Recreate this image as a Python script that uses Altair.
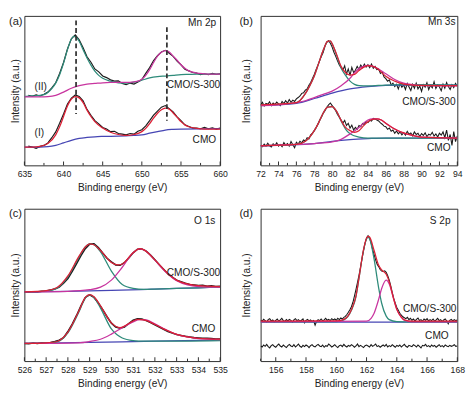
import altair as alt
import pandas as pd

FONT = "Liberation Sans"
C_BLACK = "#1a1a1a"
C_GREEN = "#2e8b7a"
C_MAG = "#c8359f"
C_RED = "#dc2035"
C_BLUE = "#4646b4"
FRAME = "#2a2a2a"
TXT = "#222222"

# ---------------- Panel (a) Mn 2p ----------------
a_xdom = [635, 660]
a_major = [635, 640, 645, 650, 655, 660]
a_minor = [637.5, 642.5, 647.5, 652.5, 657.5]
a_II_start, a_II_step = 635.5, 0.5
a_II_data = [218, 215, 219, 216, 221, 228, 241, 257, 286, 320, 362, 394, 406, 391, 366, 338, 321, 300, 291, 278,
             273, 266, 262, 263, 255, 251, 256, 253, 259, 267, 286, 304, 326, 341, 353, 358, 349, 339, 324, 313,
             299, 294, 289, 287, 282, 285, 282, 286, 283, 285]
a_II_green = [(635, 214), (636, 216), (637, 218), (637.5, 220), (638, 227), (638.5, 239), (639, 256), (639.5, 282),
              (640, 318), (640.5, 360), (641, 393), (641.3, 401), (641.6, 399), (642, 386), (642.5, 360), (643, 334),
              (643.5, 312), (644, 293), (644.5, 280), (645, 271), (646, 262), (647, 257), (648, 256), (649, 259),
              (650, 265), (651, 272), (652, 276), (653, 278), (654, 280), (655, 282), (656, 283), (657, 284), (660, 284)]
a_II_mag = [(635, 213), (637, 213), (638, 214), (639, 218), (640, 228), (641, 240), (642, 248), (643, 253), (644, 255),
            (645, 257), (646, 258), (648, 258), (649, 260), (649.5, 262), (650, 268), (650.5, 280), (651, 298),
            (651.5, 320), (652, 340), (652.5, 352), (653, 357), (653.5, 353), (654, 340), (654.5, 327), (655, 313),
            (655.5, 302), (656, 294), (656.5, 290), (657, 287), (658, 285), (659, 284), (660, 284)]
a_I_start, a_I_step = 635.5, 0.5
a_I_data = [60, 57, 53, 59, 62, 70, 86, 104, 131, 160, 191, 209, 219, 214, 201, 174, 156, 139, 129, 118,
            113, 105, 106, 99, 97, 95, 99, 97, 106, 111, 123, 139, 156, 169, 181, 186, 176, 166, 151, 139,
            126, 121, 116, 116, 114, 118, 114, 117, 113, 116]
a_I_red = [(635, 57), (636, 57), (637, 59), (638, 68), (639, 95), (639.5, 120), (640, 152), (640.5, 185), (641, 206),
           (641.5, 214), (642, 210), (642.5, 195), (643, 172), (643.5, 152), (644, 136), (645, 116), (646, 103),
           (647, 96), (648, 93), (649, 96), (650, 105), (650.5, 115), (651, 130), (651.5, 147), (652, 162),
           (652.5, 173), (653, 178), (653.5, 175), (654, 163), (654.5, 150), (655, 136), (655.5, 126), (656, 120),
           (657, 115), (658, 113), (660, 113)]
a_I_blue = [(635, 57), (637, 57), (638, 58), (639, 62), (640, 70), (641, 78), (642, 84), (643, 87), (644, 89),
            (645, 90), (647, 91), (648, 92), (649, 93), (650, 95), (651, 100), (652, 105), (653, 110), (654, 112),
            (655, 113), (660, 114)]
a_dash_x = [641.6, 653.2]
a_dash_top = [451, 430]
a_dash_bottom = [160, 139]
a_labels_right = [("Mn 2p", 659.5, 442), ("CMO/S-300", 660, 250), ("CMO", 659.5, 80)]
a_labels_left = [("(II)", 636.3, 245), ("(I)", 636.3, 100)]

# ---------------- Panel (b) Mn 3s ----------------
b_xdom = [72, 94]
b_major = [72, 74, 76, 78, 80, 82, 84, 86, 88, 90, 92, 94]
b_minor = [73, 75, 77, 79, 81, 83, 85, 87, 89, 91, 93]
b_top_start, b_top_step = 72.0, 0.2
b_top_data = [188, 196, 185, 193, 190, 198, 186, 194, 189, 197, 191, 186, 199, 192, 201, 194, 205, 196, 203, 199,
              207, 211, 216, 224, 226, 234, 238, 249, 258, 270, 283, 298, 311, 326, 339, 352, 371, 384, 388, 380,
              368, 352, 339, 325, 312, 304, 296, 310, 284, 300, 280, 305, 289, 296, 308, 299, 312, 304, 315, 306,
              313, 304, 315, 302, 308, 298, 300, 286, 290, 275, 270, 262, 266, 250, 256, 245, 252, 238, 255, 243,
              250, 236, 255, 244, 233, 252, 240, 256, 238, 247, 230, 251, 243, 257, 236, 249, 241, 260, 239, 250,
              244, 232, 253, 240, 258, 245, 236, 251, 242, 255, 246]
b_top_green = [(72, 188), (74, 190), (76, 195), (77, 223), (77.5, 248), (78, 278), (78.5, 318), (79, 358),
               (79.5, 385), (79.8, 386), (80, 378), (80.5, 343), (81, 303), (81.5, 280), (82, 262), (82.5, 252),
               (83, 248), (84, 247), (86, 250), (88, 251), (94, 250)]
b_top_red = [(72, 188), (76, 195), (77, 223), (77.5, 248), (78, 278), (78.5, 318), (79, 358), (79.5, 386),
             (79.8, 387), (80, 378), (80.5, 345), (81, 308), (81.5, 288), (82, 281), (82.5, 283), (83, 295),
             (83.5, 305), (84, 310), (84.5, 309), (85, 302), (85.5, 290), (86, 277), (87, 262), (88, 253),
             (89, 250), (90, 249), (94, 248)]
b_top_mag = [(72, 186), (74, 188), (76, 195), (77, 201), (78, 211), (79, 221), (80, 231), (81, 248), (82, 271),
             (82.5, 288), (83, 301), (83.5, 308), (84, 311), (84.5, 309), (85, 303), (86, 285), (87, 267),
             (88, 256), (89, 251), (90, 248), (94, 247)]
b_top_blue = [(72, 186), (76, 193), (78, 208), (80, 225), (82, 238), (84, 245), (86, 249), (88, 250), (94, 250)]
b_bot_start, b_bot_step = 72.0, 0.2
b_bot_data = [63, 58, 66, 60, 69, 61, 57, 67, 62, 70, 60, 65, 58, 71, 63, 68, 60, 74, 64, 55,
              72, 66, 75, 70, 79, 76, 86, 82, 95, 100, 108, 117, 128, 140, 150, 162, 170, 181, 188, 194,
              186, 178, 170, 158, 150, 141, 132, 140, 124, 131, 116, 125, 110, 118, 112, 124, 120, 130, 127, 136,
              133, 140, 138, 146, 144, 141, 138, 132, 128, 122, 120, 112, 116, 106, 110, 100, 107, 98, 104, 95,
              102, 94, 106, 97, 101, 92, 104, 96, 100, 90, 99, 93, 101, 89, 97, 94, 103, 91, 98, 88,
              100, 94, 104, 86, 110, 78, 96, 62, 105, 74, 92]
b_bot_green = [(72, 61), (76, 65), (77, 75), (78, 108), (78.5, 133), (79, 163), (79.5, 181), (80, 183),
               (80.5, 168), (81, 138), (81.5, 113), (82, 98), (83, 88), (84, 85), (86, 85), (94, 85)]
b_bot_red = [(72, 61), (76, 65), (77, 75), (78, 108), (78.5, 133), (79, 163), (79.5, 181), (80, 183), (80.5, 168),
             (81, 140), (81.5, 118), (82, 108), (82.5, 103), (83, 108), (83.5, 123), (84, 136), (84.5, 143),
             (85, 145), (85.5, 141), (86, 131), (87, 113), (88, 101), (89, 93), (90, 88), (94, 85)]
b_bot_mag = [(72, 61), (76, 65), (78, 68), (80, 73), (81, 81), (82, 98), (83, 118), (83.5, 131), (84, 141),
             (84.5, 145), (85, 145), (85.5, 141), (86, 131), (87, 113), (88, 100), (89, 93), (90, 88), (94, 85)]
b_bot_blue = [(72, 61), (78, 68), (80, 75), (82, 80), (84, 83), (86, 85), (94, 85)]
b_labels_right = [("Mn 3s", 93.8, 445), ("CMO/S-300", 93.8, 196), ("CMO", 93.25, 55)]

# ---------------- Panel (c) O 1s ----------------
c_xdom = [526, 535]
c_major = [526, 527, 528, 529, 530, 531, 532, 533, 534, 535]
c_minor = [526.5, 527.5, 528.5, 529.5, 530.5, 531.5, 532.5, 533.5, 534.5]
c_top_start, c_top_step = 526.0, 0.2
c_top_data = [215, 214, 216, 215, 217, 218, 221, 224, 230, 242, 257, 279, 303, 328, 350, 364, 365, 353, 336, 320,
              309, 299, 298, 306, 321, 337, 348, 349, 342, 330, 315, 300, 286, 272, 261, 252, 247, 242, 238, 237,
              235, 236, 233, 234, 232, 233]
c_top_green = [(526, 215), (527, 218), (527.5, 227), (528, 262), (528.5, 322), (528.8, 355), (529, 365),
               (529.2, 362), (529.5, 340), (530, 280), (530.5, 238), (531, 226), (531.5, 223), (532, 224),
               (534, 228), (535, 230)]
c_top_mag = [(526, 215), (528, 217), (529, 222), (529.5, 230), (530, 252), (530.5, 292), (531, 337), (531.3, 349),
             (531.5, 346), (532, 314), (532.5, 277), (533, 250), (533.5, 237), (534, 232), (535, 230)]
c_top_red = [(526, 215), (527, 219), (527.5, 229), (528, 265), (528.5, 325), (528.8, 355), (529, 365), (529.2, 362),
             (529.5, 344), (530, 307), (530.3, 299), (530.5, 302), (531, 337), (531.3, 350), (531.5, 346),
             (532, 315), (532.5, 279), (533, 252), (533.5, 240), (534, 235), (535, 232)]
c_top_blue = [(526, 215), (528, 217), (530, 220), (532, 224), (534, 228), (535, 230)]
c_bot_start, c_bot_step = 526.0, 0.2
c_bot_data = [55, 54, 56, 55, 57, 56, 58, 61, 65, 73, 92, 115, 142, 172, 198, 206, 198, 181, 160, 138,
              118, 106, 102, 106, 117, 127, 132, 131, 126, 120, 113, 106, 99, 92, 87, 83, 80, 77, 75, 73,
              72, 71, 71, 70, 69, 69]
c_bot_green = [(526, 55), (527, 56), (527.5, 60), (528, 88), (528.5, 152), (528.8, 196), (529, 206), (529.2, 198),
               (529.5, 165), (530, 100), (530.5, 72), (531, 64), (531.5, 62), (532, 62), (535, 64)]
c_bot_mag = [(526, 55), (528.5, 57), (529, 61), (529.5, 68), (530, 84), (530.5, 104), (531, 122), (531.3, 129),
             (531.6, 128), (532, 116), (532.5, 98), (533, 83), (533.5, 75), (534, 70), (535, 67)]
c_bot_red = [(526, 55), (527, 57), (527.5, 61), (528, 90), (528.5, 155), (528.8, 198), (529, 207), (529.2, 200),
             (529.5, 172), (530, 119), (530.4, 104), (530.8, 117), (531.2, 130), (531.5, 128), (532, 114),
             (532.5, 97), (533, 83), (533.5, 75), (534, 71), (535, 68)]
c_bot_blue = [(526, 55), (529, 58), (532, 62), (535, 65)]
c_labels_right = [("O 1s", 534.78, 434), ("CMO/S-300", 535.0, 275), ("CMO", 534.78, 100)]

# ---------------- Panel (d) S 2p ----------------
d_xdom = [155, 168]
d_major = [156, 158, 160, 162, 164, 166, 168]
d_minor = [155, 157, 159, 161, 163, 165, 167]
d_top_start, d_top_step = 155.0, 0.1
d_top_data = [127, 124, 130, 126, 121, 129, 132, 125, 128, 122, 127, 131, 124, 128, 133, 126, 123, 129, 125, 130,
              127, 121, 128, 132, 126, 129, 124, 127, 131, 119, 127, 130, 125, 128, 123, 126, 112, 124, 129, 126,
              131, 125, 128, 133, 127, 130, 126, 132, 128, 131, 127, 133, 129, 134, 131, 136, 139, 145, 152, 160,
              169, 183, 202, 222, 244, 267, 292, 318, 343, 366, 383, 390, 383, 368, 348, 331, 315, 301, 294, 285,
              280, 279, 281, 276, 266, 252, 234, 214, 195, 180, 167, 158, 149, 143, 138, 135, 132, 136, 129, 133,
              127, 131, 125, 130, 134, 126, 129, 124, 131, 127, 132, 125, 129, 126, 131, 124, 128, 133, 126, 129,
              123, 128, 131, 125, 116, 127, 130, 125, 129, 126, 128]
d_top_green = [(155, 122), (160, 123), (160.5, 128), (161, 158), (161.3, 200), (161.5, 257), (161.8, 345),
               (162, 380), (162.1, 385), (162.2, 381), (162.5, 317), (162.8, 228), (163, 180), (163.3, 140),
               (163.5, 129), (164, 123), (165, 122), (168, 122)]
d_top_mag = [(155, 122), (162, 124), (162.3, 133), (162.5, 149), (162.8, 192), (163, 226), (163.3, 252),
             (163.5, 240), (163.8, 192), (164, 161), (164.3, 136), (164.5, 127), (165, 122), (168, 122)]
d_top_red = [(155, 124), (160, 125), (160.5, 130), (161, 160), (161.3, 202), (161.5, 259), (161.8, 347), (162, 382),
             (162.1, 388), (162.2, 386), (162.5, 344), (162.8, 298), (163, 284), (163.3, 270), (163.5, 247),
             (163.8, 192), (164, 161), (164.3, 137), (164.5, 128), (165, 124), (168, 124)]
d_top_blue = [(155, 121), (168, 121)]
d_bot_start, d_bot_step = 155.0, 0.1
d_bot_data = [47, 44, 50, 46, 52, 45, 41, 48, 51, 46, 43, 49, 53, 47, 44, 50, 46, 42, 48, 52,
              47, 45, 51, 44, 48, 53, 46, 43, 49, 45, 50, 47, 42, 48, 51, 46, 44, 49, 52, 47,
              45, 50, 43, 48, 46, 53, 49, 44, 47, 51, 46, 42, 48, 50, 45, 52, 47, 44, 49, 46,
              51, 48, 43, 47, 53, 45, 49, 46, 42, 48, 50, 47, 44, 51, 46, 49, 53, 45, 48, 43,
              47, 50, 46, 52, 44, 48, 45, 51, 47, 43, 49, 46, 50, 44, 48, 52, 46, 43, 49, 47,
              45, 51, 48, 44, 50, 46, 41, 49, 47, 52, 45, 48, 44, 50, 46, 49, 43, 47, 51, 45,
              48, 44, 50, 47, 45, 49, 46, 48, 51, 46, 47]
d_labels_right = [("S 2p", 167.55, 434), ("CMO/S-300", 167.94, 162), ("CMO", 167.43, 77)]


def grid_df(start, step, vals):
    return pd.DataFrame({"x": [round(start + i * step, 3) for i in range(len(vals))], "y": vals})


def pts_df(pts):
    return pd.DataFrame({"x": [p[0] for p in pts], "y": [p[1] for p in pts]})


def panel(tag, tag_x, xdom, ydom, w, h, major, minor, curves, labels_right, ytitle_pad,
          labels_left=None, dashes=None):
    xs = alt.Scale(domain=xdom, nice=False, zero=False)
    ys = alt.Scale(domain=ydom, nice=False, zero=False)
    xax = alt.Axis(values=major, format="d", ticks=False, domain=False, grid=False, labelPadding=5,
                   titlePadding=4, labelFlush=False, labelOverlap=False, title="Binding energy (eV)")
    yax = alt.Axis(labels=False, ticks=False, domain=False, grid=False, title="Intensity (a.u.)",
                   titlePadding=ytitle_pad)
    X = alt.X("x:Q", scale=xs, axis=xax)
    Y = alt.Y("y:Q", scale=ys, axis=yax)
    layers = []
    for df, color, sw, interp in curves:
        layers.append(alt.Chart(df).mark_line(color=color, strokeWidth=sw, clip=True, interpolate=interp)
                      .encode(x=X, y=Y))
    if dashes is not None:
        layers.append(alt.Chart(dashes).mark_rule(color="#333333", strokeWidth=1.8, strokeDash=[5, 3])
                      .encode(x=X, y=Y, y2="y2:Q"))
    layers.append(alt.Chart(pd.DataFrame({"x": major})).mark_rule(color=FRAME, strokeWidth=1)
                  .encode(x=X, y=alt.value(h), y2=alt.value(h - 4)))
    layers.append(alt.Chart(pd.DataFrame({"x": minor})).mark_rule(color=FRAME, strokeWidth=1)
                  .encode(x=X, y=alt.value(h), y2=alt.value(h - 2.5)))
    lr = pd.DataFrame({"t": [l[0] for l in labels_right], "x": [l[1] for l in labels_right],
                       "y": [l[2] for l in labels_right]})
    layers.append(alt.Chart(lr).mark_text(align="right", baseline="middle", font=FONT, fontSize=10.5, color=TXT)
                  .encode(x=X, y=Y, text="t:N"))
    if labels_left:
        ll = pd.DataFrame({"t": [l[0] for l in labels_left], "x": [l[1] for l in labels_left],
                           "y": [l[2] for l in labels_left]})
        layers.append(alt.Chart(ll).mark_text(align="left", baseline="middle", font=FONT, fontSize=10.5,
                                              color=TXT).encode(x=X, y=Y, text="t:N"))
    layers.append(alt.Chart(pd.DataFrame({"t": [tag]})).mark_text(align="left", baseline="top", font=FONT,
                                                                  fontSize=11.5, color=TXT)
                  .encode(x=alt.value(tag_x), y=alt.value(0), text="t:N"))
    return alt.layer(*layers).properties(width=w, height=h)


TOP_H, BOT_H = 155, 158
LW, RW = 203, 204

pa = panel("(a)", -16, a_xdom, [0, 465], LW, TOP_H, a_major, a_minor, [
    (grid_df(a_II_start, a_II_step, a_II_data), C_BLACK, 1.2, "linear"),
    (pts_df(a_II_green), C_GREEN, 1.3, "monotone"),
    (pts_df(a_II_mag), C_MAG, 1.3, "monotone"),
    (grid_df(a_I_start, a_I_step, a_I_data), C_BLACK, 1.2, "linear"),
    (pts_df(a_I_blue), C_BLUE, 1.3, "monotone"),
    (pts_df(a_I_red), C_RED, 1.3, "monotone"),
], a_labels_right, 4, labels_left=a_labels_left,
    dashes=pd.DataFrame({"x": a_dash_x, "y": a_dash_top, "y2": a_dash_bottom}))

pb = panel("(b)", -22, b_xdom, [0, 465], RW, TOP_H, b_major, b_minor, [
    (grid_df(b_top_start, b_top_step, b_top_data), C_BLACK, 1.1, "linear"),
    (pts_df(b_top_blue), C_BLUE, 1.3, "monotone"),
    (pts_df(b_top_green), C_GREEN, 1.3, "monotone"),
    (pts_df(b_top_mag), C_MAG, 1.3, "monotone"),
    (pts_df(b_top_red), C_RED, 1.3, "monotone"),
    (grid_df(b_bot_start, b_bot_step, b_bot_data), C_BLACK, 1.1, "linear"),
    (pts_df(b_bot_blue), C_BLUE, 1.3, "monotone"),
    (pts_df(b_bot_green), C_GREEN, 1.3, "monotone"),
    (pts_df(b_bot_mag), C_MAG, 1.3, "monotone"),
    (pts_df(b_bot_red), C_RED, 1.3, "monotone"),
], b_labels_right, 10)

pc = panel("(c)", -16, c_xdom, [0, 474], LW, BOT_H, c_major, c_minor, [
    (grid_df(c_top_start, c_top_step, c_top_data), C_BLACK, 1.6, "linear"),
    (pts_df(c_top_blue), C_BLUE, 1.3, "monotone"),
    (pts_df(c_top_green), C_GREEN, 1.3, "monotone"),
    (pts_df(c_top_mag), C_MAG, 1.3, "monotone"),
    (pts_df(c_top_red), C_RED, 1.3, "monotone"),
    (grid_df(c_bot_start, c_bot_step, c_bot_data), C_BLACK, 1.6, "linear"),
    (pts_df(c_bot_blue), C_BLUE, 1.3, "monotone"),
    (pts_df(c_bot_green), C_GREEN, 1.3, "monotone"),
    (pts_df(c_bot_mag), C_MAG, 1.3, "monotone"),
    (pts_df(c_bot_red), C_RED, 1.3, "monotone"),
], c_labels_right, 4)

pd_ = panel("(d)", -22, d_xdom, [0, 474], RW, BOT_H, d_major, d_minor, [
    (grid_df(d_top_start, d_top_step, d_top_data), C_BLACK, 1.1, "linear"),
    (pts_df(d_top_blue), C_BLUE, 1.3, "monotone"),
    (pts_df(d_top_green), C_GREEN, 1.3, "monotone"),
    (pts_df(d_top_mag), C_MAG, 1.3, "monotone"),
    (pts_df(d_top_red), C_RED, 1.3, "monotone"),
    (grid_df(d_bot_start, d_bot_step, d_bot_data), C_BLACK, 1.1, "linear"),
], d_labels_right, 10)

chart = alt.vconcat(
    alt.hconcat(pa, pb, spacing=10),
    alt.hconcat(pc, pd_, spacing=10),
    spacing=15,
    padding=0,
    background="white",
).configure_view(stroke=FRAME, strokeWidth=1).configure_axis(
    labelFont=FONT, titleFont=FONT, labelFontSize=9, titleFontSize=10.5, labelColor=TXT, titleColor=TXT,
    titleFontWeight="normal")

chart.save("out.html", embed_options={"renderer": "svg", "actions": False})
